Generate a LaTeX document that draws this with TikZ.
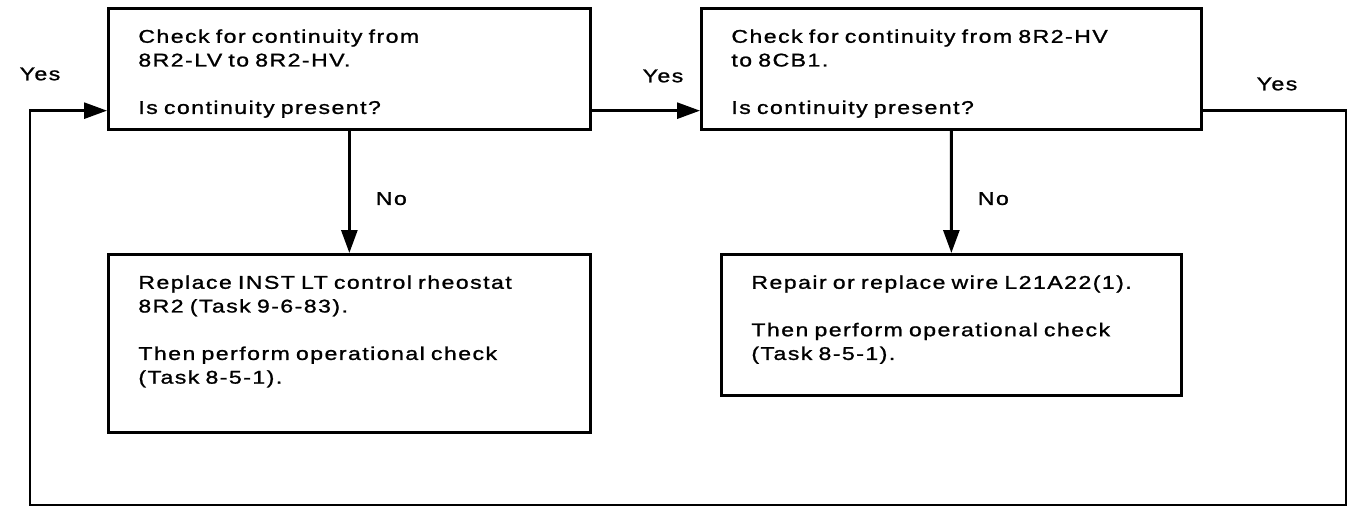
\documentclass[tikz,border=0pt]{standalone}
\usepackage{fontspec}
\setmainfont{Liberation Sans}[FakeStretch=1.25,LetterSpace=8,FakeBold=1.2]
\usepackage{tikz}
\tikzset{>=latex}
\usetikzlibrary{
    positioning, % relative placement
    arrows.meta, % arrow tips
    calc % coordinate calculations
}

\begin{document}
\begin{tikzpicture}[x=0.02cm,y=-0.02cm]
    \useasboundingbox (0,0) rectangle (1351,507);
    % blocks
    \tikzstyle{block} = [rectangle, draw=black, line width=1.6pt, anchor=north west, align=left,
                         font=\fontsize{10.5}{13.5}\selectfont, inner xsep=0.6cm, inner ysep=0.42cm]
    \tikzstyle{line}  = [-{Triangle[length=0.46cm,width=0.32cm]}, draw=black, line width=1.6pt]
    \tikzstyle{answer} = [font=\fontsize{10.5}{13.5}\selectfont, inner sep=0pt]
    \node[block, text width=8.44cm, text depth=1.31cm] (cont1) at (107,7)
        {Check for continuity from\\8R2-LV to 8R2-HV.\\[13.5pt]Is continuity present?};
    \node[block, text width=8.8cm, text depth=1.31cm] (cont2) at (700,7)
        {Check for continuity from 8R2-HV\\to 8CB1.\\[13.5pt]Is continuity present?};
    \node[block, text width=8.44cm, text depth=2.45cm] (fix1) at (107,253)
        {Replace INST LT control rheostat\\8R2 (Task 9-6-83).\\[13.5pt]Then perform operational check\\(Task 8-5-1).};
    \node[block, text width=8cm, text depth=1.71cm] (fix2) at (720,253)
        {Repair or replace wire L21A22(1).\\[13.5pt]Then perform operational check\\(Task 8-5-1).};
    % loop corners
    \coordinate (yes1) at ($(cont1.south east)+(0,-20)$);
    \coordinate (yes2) at ($(cont2.south east)+(0,-20)$);
    \coordinate (in1)  at ($(cont1.south west)+(0,-20)$);
    \coordinate (loopse) at (1346,505);
    \coordinate (loopsw) at (30,505);
    % arrows
    \draw[line] (yes2) -| (loopse) -- (loopsw) |- (in1);
    \draw[line] (yes1) -- (yes1 -| cont2.west);
    \draw[line] (cont1.south) -- (fix1.north);
    \draw[line] (cont2.south) -- (fix2.north);
    % answers
    \node[answer] (yesa) at (40,74)   {Yes};
    \node[answer] (yesb) at (663,76)  {Yes};
    \node[answer] (yesc) at (1277,84) {Yes};
    \node[answer] (noa)  at ($(cont1.south)+(42,68)$) {No};
    \node[answer] (nob)  at ($(cont2.south)+(42,68)$) {No};
\end{tikzpicture}
\end{document}
